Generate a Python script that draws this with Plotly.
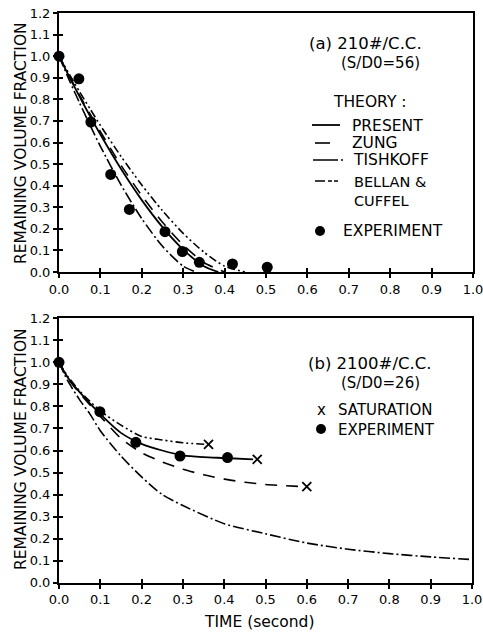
import plotly.graph_objects as go

# ---------------- data: panel (a) 210#/C.C., S/D0 = 56 ----------------
exp_a_t = [0.0, 0.048, 0.077, 0.125, 0.17, 0.256, 0.298, 0.339, 0.419, 0.503]
exp_a_v = [1.0, 0.895, 0.695, 0.452, 0.29, 0.187, 0.095, 0.045, 0.037, 0.022]

present_a_t = [0.0, 0.025, 0.05, 0.075, 0.1, 0.15, 0.2, 0.25, 0.3, 0.35, 0.385]
present_a_v = [1.0, 0.904, 0.811, 0.722, 0.637, 0.477, 0.333, 0.208, 0.104, 0.027, 0.0]

zung_a_t = [0.0, 0.025, 0.05, 0.075, 0.1, 0.15, 0.2, 0.25, 0.3, 0.35, 0.40]
zung_a_v = [1.0, 0.908, 0.818, 0.732, 0.650, 0.494, 0.354, 0.230, 0.125, 0.044, 0.0]

tishkoff_a_t = [0.0, 0.025, 0.05, 0.075, 0.1, 0.15, 0.2, 0.25, 0.3, 0.33]
tishkoff_a_v = [1.0, 0.888, 0.782, 0.680, 0.582, 0.403, 0.247, 0.119, 0.027, 0.0]

bellan_a_t = [0.0, 0.025, 0.05, 0.075, 0.1, 0.15, 0.2, 0.25, 0.3, 0.35, 0.4, 0.45]
bellan_a_v = [1.0, 0.916, 0.834, 0.756, 0.679, 0.535, 0.403, 0.284, 0.179, 0.092, 0.027, 0.0]

# ---------------- data: panel (b) 2100#/C.C., S/D0 = 26 ----------------
exp_b_t = [0.0, 0.099, 0.186, 0.293, 0.408]
exp_b_v = [1.0, 0.776, 0.637, 0.575, 0.568]

sat_b_t = [0.362, 0.480, 0.600]
sat_b_v = [0.628, 0.560, 0.436]

present_b_t = [0.0, 0.02, 0.05, 0.1, 0.15, 0.2, 0.25, 0.3, 0.35, 0.4, 0.47]
present_b_v = [1.0, 0.935, 0.865, 0.765, 0.68, 0.63, 0.60, 0.578, 0.570, 0.566, 0.560]

zung_b_t = [0.0, 0.02, 0.05, 0.1, 0.15, 0.2, 0.25, 0.3, 0.35, 0.4, 0.45, 0.5, 0.55, 0.59]
zung_b_v = [1.0, 0.93, 0.86, 0.755, 0.655, 0.59, 0.548, 0.515, 0.49, 0.47, 0.456, 0.446, 0.44, 0.436]

tishkoff_b_t = [0.0, 0.02, 0.05, 0.075, 0.1, 0.15, 0.2, 0.25, 0.3, 0.4, 0.5, 0.6, 0.7, 0.8, 0.9, 1.0]
tishkoff_b_v = [1.0, 0.92, 0.83, 0.765, 0.69, 0.575, 0.48, 0.40, 0.35, 0.268, 0.222, 0.18, 0.152, 0.132, 0.117, 0.105]

bellan_b_t = [0.0, 0.02, 0.05, 0.1, 0.15, 0.2, 0.25, 0.3, 0.355]
bellan_b_v = [1.0, 0.94, 0.87, 0.78, 0.715, 0.664, 0.648, 0.635, 0.628]

x_ticks = [0.0, 0.1, 0.2, 0.3, 0.4, 0.5, 0.6, 0.7, 0.8, 0.9, 1.0]
y_ticks = [0.0, 0.1, 0.2, 0.3, 0.4, 0.5, 0.6, 0.7, 0.8, 0.9, 1.0, 1.1, 1.2]

# ---------------- styling ----------------
W, H = 483, 634
FONT = "DejaVu Sans"
INK = "black"
DASH_PRESENT = "solid"
DASH_ZUNG = "12px,9px"
DASH_TISHKOFF = "11px,3px,2px,3px"
DASH_BELLAN = "8px,3px,2px,3px,2px,3px"


def fx(p):
    return p / W


def fy(p):
    return 1 - p / H


fig = go.Figure()


def curve(t, v, dash, xa, ya, width=1.6):
    fig.add_trace(go.Scatter(
        x=t, y=v, mode="lines", xaxis=xa, yaxis=ya, showlegend=False,
        line=dict(color=INK, width=width, dash=dash, shape="spline", smoothing=0.7),
        hoverinfo="skip"))


# panel (a) curves
curve(present_a_t, present_a_v, DASH_PRESENT, "x", "y", 1.8)
curve(zung_a_t, zung_a_v, DASH_ZUNG, "x", "y")
curve(tishkoff_a_t, tishkoff_a_v, DASH_TISHKOFF, "x", "y")
curve(bellan_a_t, bellan_a_v, DASH_BELLAN, "x", "y")
fig.add_trace(go.Scatter(
    x=exp_a_t, y=exp_a_v, mode="markers", xaxis="x", yaxis="y", showlegend=False,
    cliponaxis=False, marker=dict(symbol="circle", size=11, color=INK)))

# panel (b) curves
curve(present_b_t, present_b_v, DASH_PRESENT, "x2", "y2", 1.8)
curve(zung_b_t, zung_b_v, DASH_ZUNG, "x2", "y2")
curve(tishkoff_b_t, tishkoff_b_v, DASH_TISHKOFF, "x2", "y2")
curve(bellan_b_t, bellan_b_v, DASH_BELLAN, "x2", "y2")
fig.add_trace(go.Scatter(
    x=exp_b_t, y=exp_b_v, mode="markers", xaxis="x2", yaxis="y2", showlegend=False,
    cliponaxis=False, marker=dict(symbol="circle", size=11, color=INK)))
fig.add_trace(go.Scatter(
    x=sat_b_t, y=sat_b_v, mode="markers", xaxis="x2", yaxis="y2", showlegend=False,
    cliponaxis=False, marker=dict(symbol="x-thin", size=9, line=dict(color=INK, width=1.8))))

# empty traces that carry the inner tick axes
for xa, ya in (("x3", "y3"), ("x4", "y4")):
    fig.add_trace(go.Scatter(x=[], y=[], xaxis=xa, yaxis=ya, showlegend=False))

tickfont = dict(family=FONT, size=13, color=INK)


def main_axis(dom, rng, vals, anchor):
    return dict(domain=dom, range=rng, tickvals=vals, ticktext=[f"{v:.1f}" for v in vals],
                ticks="outside", ticklen=4, tickwidth=1.5, tickcolor=INK,
                showline=True, linewidth=2, linecolor=INK, mirror=True,
                showgrid=False, zeroline=False, tickfont=tickfont, anchor=anchor,
                automargin=False, ticklabeloverflow="allow", fixedrange=True)


def inner_axis(over, rng, vals, anchor):
    return dict(overlaying=over, range=rng, tickvals=vals, ticks="inside", ticklen=4,
                tickwidth=1.5, tickcolor=INK, showticklabels=False, showline=False,
                showgrid=False, zeroline=False, anchor=anchor, automargin=False,
                fixedrange=True)


xdom_a = [fx(59), fx(473)]
ydom_a = [fy(272), fy(13)]
xdom_b = [fx(59), fx(472)]
ydom_b = [fy(582.7), fy(318.3)]

layout = dict(
    width=W, height=H, autosize=False,
    margin=dict(l=0, r=0, t=0, b=0, pad=0, autoexpand=False),
    paper_bgcolor="white", plot_bgcolor="white", showlegend=False,
    font=dict(family=FONT, color=INK),
    xaxis=main_axis(xdom_a, [0, 1], x_ticks, "y"),
    yaxis=main_axis(ydom_a, [0, 1.2], y_ticks, "x"),
    xaxis2=main_axis(xdom_b, [0, 1], x_ticks, "y2"),
    yaxis2=main_axis(ydom_b, [0, 1.2], y_ticks, "x2"),
    xaxis3=inner_axis("x", [0, 1], x_ticks, "y"),
    yaxis3=inner_axis("y", [0, 1.2], y_ticks, "x"),
    xaxis4=inner_axis("x2", [0, 1], x_ticks, "y2"),
    yaxis4=inner_axis("y2", [0, 1.2], y_ticks, "x2"),
)
fig.update_layout(**layout)

annotations = []
shapes = []


def text(s, x, y, size, anchor="left", angle=0):
    annotations.append(dict(text=s, x=fx(x), y=fy(y), xref="paper", yref="paper",
                            xanchor=anchor, yanchor="middle", showarrow=False,
                            align="left", textangle=angle,
                            font=dict(family=FONT, size=size, color=INK)))


def key_line(x0, x1, y, dash, width=1.6):
    shapes.append(dict(type="line", xref="paper", yref="paper",
                       x0=fx(x0), x1=fx(x1), y0=fy(y), y1=fy(y),
                       line=dict(color=INK, width=width, dash=dash)))


def key_dot(x, y, r=5):
    shapes.append(dict(type="circle", xref="paper", yref="paper",
                       x0=fx(x - r), x1=fx(x + r), y0=fy(y + r), y1=fy(y - r),
                       fillcolor=INK, line=dict(color=INK, width=0)))


# axis titles
text("REMAINING VOLUME FRACTION", 21, 143, 15.5, anchor="center", angle=-90)
text("REMAINING VOLUME FRACTION", 21, 449, 15.5, anchor="center", angle=-90)
text("TIME (second)", 259, 622, 15.5, anchor="center")

# panel (a) labels and key
text("(a) 210#/C.C.", 307, 43, 16.5)
text("(S/D0=56)", 339, 63, 15)
text("THEORY :", 331, 102, 15.5)
text("PRESENT", 350, 126, 15.5)
text("ZUNG", 350, 143, 15.5)
text("TISHKOFF", 351, 160, 15.5)
text("BELLAN &<br>CUFFEL", 352, 191, 14.5)
text("EXPERIMENT", 341, 231, 15.5)
key_line(312, 340, 125, "solid", 1.8)
key_line(315, 330, 143, "solid")
key_line(313, 343, 160, "25px,3px,2px,20px")
key_line(315, 345, 181, "10px,3px,4px,2px,4px,10px")
key_dot(320, 231)

# panel (b) labels and key
text("(b) 2100#/C.C.", 306, 363, 16.5)
text("(S/D0=26)", 339, 383, 15)
text("SATURATION<br>EXPERIMENT", 336, 420, 15)
text("x", 321, 410, 15, anchor="center")
key_dot(321, 429)

fig.update_layout(annotations=annotations, shapes=shapes)
fig.write_html("out.html")
